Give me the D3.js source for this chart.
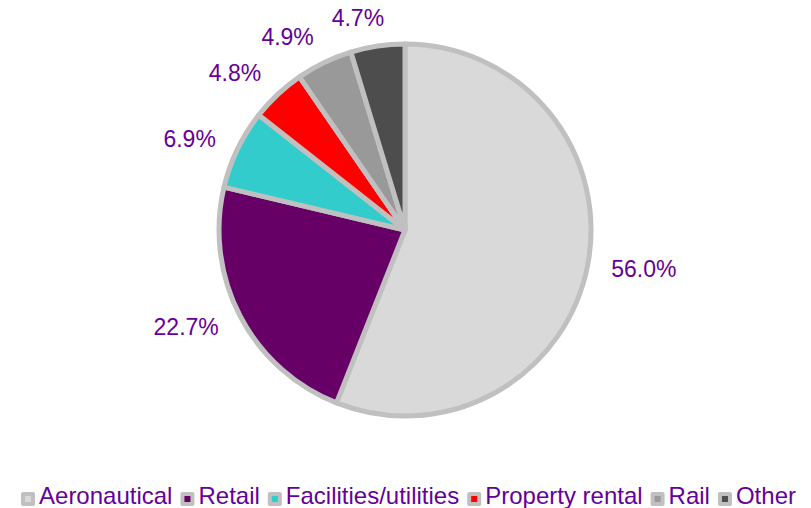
<!DOCTYPE html>
<html>
<head>
<meta charset="utf-8">
<script src="https://d3js.org/d3.v7.min.js"></script>
<style>
  body { margin: 0; background: #fff; }
  text { font-family: "Liberation Sans", Arial, sans-serif; }
</style>
</head>
<body>
<div id="chart"></div>
<script>
// data
var categories = ["Aeronautical", "Retail", "Facilities/utilities", "Property rental", "Rail", "Other"];
var shares = [56.0, 22.7, 6.9, 4.8, 4.9, 4.7];
var colours = ["#d9d9d9", "#660066", "#33cccc", "#ff0000", "#999999", "#4d4d4d"];

var width = 811, height = 508;
var cx = 405, cy = 230, radius = 186;
var labelColour = "#660099";

var svg = d3.select("#chart").append("svg")
    .attr("width", width)
    .attr("height", height);

var data = categories.map(function(c, i) {
    return { name: c, value: shares[i], colour: colours[i] };
});

var pie = d3.pie().sort(null).value(function(d) { return d.value; });
var arc = d3.arc().innerRadius(0).outerRadius(radius);

var g = svg.append("g").attr("transform", "translate(" + cx + "," + cy + ")");

g.selectAll(".slice")
    .data(pie(data))
    .enter().append("path")
    .attr("class", "slice")
    .attr("d", arc)
    .attr("fill", function(d) { return d.data.colour; })
    .attr("stroke", "#c0c0c0")
    .attr("stroke-width", 5)
    .attr("stroke-linejoin", "round");

// labels outside the pie
var labelR = 210;
g.selectAll(".lbl")
    .data(pie(data))
    .enter().append("text")
    .attr("class", "lbl")
    .attr("x", function(d) {
        var a = (d.startAngle + d.endAngle) / 2;
        return Math.sin(a) * labelR + (a > 5.9 ? 10 : 0);
    })
    .attr("y", function(d) {
        var a = (d.startAngle + d.endAngle) / 2;
        var up = Math.cos(a) > 0.6 ? 4 : 0;
        return -Math.cos(a) * labelR - up;
    })
    .attr("dy", "0.35em")
    .attr("text-anchor", function(d) {
        var a = (d.startAngle + d.endAngle) / 2;
        return a < Math.PI ? "start" : "end";
    })
    .attr("font-size", 23)
    .attr("fill", labelColour)
    .text(function(d) { return d.data.value.toFixed(1) + "%"; });

// legend
var legend = svg.append("g");
var items = legend.selectAll(".item")
    .data(data)
    .enter().append("g")
    .attr("class", "item");

items.append("rect")
    .attr("width", 14).attr("height", 14)
    .attr("y", 492)
    .attr("rx", 2)
    .attr("fill", "#c0c0c0");
items.append("rect")
    .attr("width", 6).attr("height", 6)
    .attr("x", 4).attr("y", 496)
    .attr("fill", function(d) { return d.colour; });
items.append("text")
    .attr("x", 18)
    .attr("y", 504)
    .attr("font-size", 24)
    .attr("fill", labelColour)
    .text(function(d) { return d.name; });

var xpos = 0;
items.each(function() {
    var w = d3.select(this).select("text").node().getComputedTextLength();
    d3.select(this).attr("transform", "translate(" + xpos + ",0)");
    xpos += 18 + w + 8;
});
var total = xpos - 8;
legend.attr("transform", "translate(" + (width / 2 - total / 2 + 3) + ",0)");
</script>
</body>
</html>
